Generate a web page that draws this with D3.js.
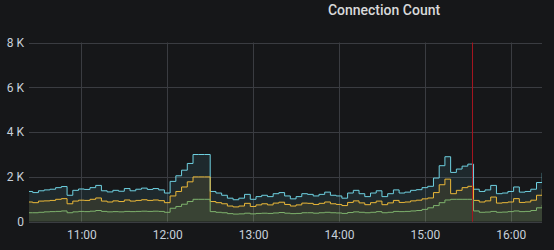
<!DOCTYPE html>
<html>
<head>
<meta charset="utf-8">
<script src="https://cdn.jsdelivr.net/npm/d3@7"></script>
<style>
    html, body { margin: 0; padding: 0; background: #161719; }
    svg { display: block; }
    text { font-family: Roboto, "Open Sans", sans-serif; }
</style>
</head>
<body>
<div id="chart"></div>
<script>
// Connection Count, samples every 4 minutes starting 10:22
var startTime = new Date(2020, 0, 1, 10, 22);
var stepMinutes = 4;

var cyanValues = [1.35, 1.30, 1.38, 1.42, 1.45, 1.52, 1.57, 1.18, 1.40, 1.46,
    1.44, 1.52, 1.62, 1.38, 1.33, 1.40, 1.36, 1.48, 1.38, 1.45,
    1.50, 1.44, 1.48, 1.42, 1.28, 1.80, 2.05, 2.30, 2.60, 3.00,
    3.00, 3.00, 1.35, 1.28, 1.18, 1.05, 0.98, 1.05, 1.22, 1.00,
    1.12, 1.18, 1.12, 1.25, 1.30, 1.15, 1.02, 1.12, 1.25, 1.22,
    1.15, 1.22, 1.32, 1.18, 1.15, 1.05, 1.28, 1.40, 1.25, 1.12,
    1.28, 1.38, 1.12, 1.25, 1.42, 1.28, 1.32, 1.40, 1.43, 1.52,
    1.58, 1.95, 2.50, 2.90, 2.20, 2.35, 2.48, 2.57, 1.45, 1.35,
    1.42, 1.62, 1.25, 1.28, 1.35, 1.55, 1.32, 1.35, 1.45, 1.75, 2.18];

var yellowValues = [0.88, 0.85, 0.92, 0.93, 0.95, 1.00, 1.03, 0.80, 0.92, 0.96,
    0.95, 1.00, 1.06, 0.92, 0.88, 0.93, 0.90, 0.97, 0.92, 0.95,
    0.98, 0.95, 0.97, 0.94, 0.85, 1.15, 1.35, 1.55, 1.78, 2.00,
    2.00, 2.00, 0.90, 0.85, 0.80, 0.70, 0.66, 0.70, 0.82, 0.68,
    0.75, 0.80, 0.75, 0.83, 0.87, 0.77, 0.70, 0.75, 0.83, 0.82,
    0.77, 0.82, 0.88, 0.80, 0.77, 0.72, 0.86, 0.93, 0.84, 0.76,
    0.85, 0.92, 0.76, 0.84, 0.95, 0.86, 0.88, 0.93, 0.96, 1.02,
    1.06, 1.30, 1.65, 1.90, 1.25, 1.40, 1.52, 1.58, 0.95, 0.88,
    0.93, 1.10, 0.83, 0.85, 0.88, 1.03, 0.86, 0.88, 0.96, 1.18, 1.46];

var greenValues = [0.40, 0.40, 0.42, 0.44, 0.45, 0.46, 0.48, 0.40, 0.44, 0.46,
    0.45, 0.47, 0.50, 0.46, 0.44, 0.45, 0.44, 0.46, 0.45, 0.46,
    0.47, 0.46, 0.47, 0.46, 0.42, 0.60, 0.68, 0.78, 0.90, 1.00,
    1.00, 1.00, 0.45, 0.42, 0.40, 0.36, 0.34, 0.35, 0.38, 0.35,
    0.37, 0.38, 0.37, 0.39, 0.41, 0.38, 0.36, 0.37, 0.40, 0.40,
    0.38, 0.40, 0.42, 0.40, 0.39, 0.37, 0.41, 0.44, 0.42, 0.40,
    0.42, 0.45, 0.40, 0.42, 0.46, 0.45, 0.46, 0.48, 0.50, 0.55,
    0.62, 0.72, 0.85, 0.97, 1.00, 1.00, 1.00, 1.00, 0.48, 0.42,
    0.43, 0.46, 0.42, 0.43, 0.45, 0.48, 0.45, 0.46, 0.50, 0.62, 0.75];

var yTickValues = [0, 2000, 4000, 6000, 8000];
var yTickLabels = ["0", "2 K", "4 K", "6 K", "8 K"];
var xTickHours = [11, 12, 13, 14, 15, 16];
var annotationTime = new Date(2020, 0, 1, 15, 33);

var series = [
    {name: "cyan", color: "#6ED0E0", values: cyanValues},
    {name: "yellow", color: "#EAB839", values: yellowValues},
    {name: "green", color: "#7EB26D", values: greenValues}
];

var width = 554, height = 250;
var plot = {left: 29, right: 542, top: 42.5, bottom: 221.7};

var svg = d3.select("#chart").append("svg")
    .attr("width", width)
    .attr("height", height);

svg.append("rect")
    .attr("width", width)
    .attr("height", height)
    .attr("fill", "#161719");

var x = d3.scaleTime()
    .domain([new Date(2020, 0, 1, 10, 23, 24), new Date(2020, 0, 1, 16, 21, 50)])
    .range([plot.left, plot.right]);

var y = d3.scaleLinear()
    .domain([0, 8000])
    .range([plot.bottom, plot.top]);

// grid
var grid = svg.append("g").attr("class", "grid");
grid.selectAll("line.h")
    .data(yTickValues)
    .enter().append("line")
    .attr("class", "h")
    .attr("x1", plot.left)
    .attr("x2", plot.right)
    .attr("y1", function(d){ return Math.round(y(d)) + 0.5; })
    .attr("y2", function(d){ return Math.round(y(d)) + 0.5; })
    .attr("stroke", "#3a3c41")
    .attr("stroke-width", 1);

var xTicks = xTickHours.map(function(h){ return new Date(2020, 0, 1, h, 0); });
grid.selectAll("line.v")
    .data(xTicks)
    .enter().append("line")
    .attr("class", "v")
    .attr("x1", function(d){ return Math.round(x(d)) + 0.5; })
    .attr("x2", function(d){ return Math.round(x(d)) + 0.5; })
    .attr("y1", plot.top)
    .attr("y2", plot.bottom)
    .attr("stroke", "#3a3c41")
    .attr("stroke-width", 1);

// series
svg.append("clipPath").attr("id", "clip")
    .append("rect")
    .attr("x", plot.left)
    .attr("y", plot.top)
    .attr("width", plot.right - plot.left)
    .attr("height", plot.bottom - plot.top);

var timeOf = function(i){
    return new Date(startTime.getTime() + i * stepMinutes * 60000);
};

var area = d3.area()
    .curve(d3.curveStepAfter)
    .x(function(d, i){ return x(timeOf(i)); })
    .y0(y(0))
    .y1(function(d){ return y(d * 1000); });

var line = d3.line()
    .curve(d3.curveStepAfter)
    .x(function(d, i){ return x(timeOf(i)); })
    .y(function(d){ return y(d * 1000); });

var g = svg.append("g").attr("clip-path", "url(#clip)");

g.selectAll("path.area")
    .data(series)
    .enter().append("path")
    .attr("class", "area")
    .attr("d", function(s){ return area(s.values); })
    .attr("fill", function(s){ return s.color; })
    .attr("fill-opacity", 0.1);

g.selectAll("path.line")
    .data(series)
    .enter().append("path")
    .attr("class", "line")
    .attr("d", function(s){ return line(s.values); })
    .attr("fill", "none")
    .attr("stroke", function(s){ return s.color; })
    .attr("stroke-width", 1);

// annotation marker
svg.append("line")
    .attr("x1", Math.round(x(annotationTime)) + 0.5)
    .attr("x2", Math.round(x(annotationTime)) + 0.5)
    .attr("y1", plot.top)
    .attr("y2", plot.bottom)
    .attr("stroke", "#a3151f")
    .attr("stroke-width", 1);

// axes labels
var yAxis = d3.axisLeft(y)
    .tickValues(yTickValues)
    .tickSize(0)
    .tickPadding(0)
    .tickFormat(function(d, i){ return yTickLabels[i]; });

var yg = svg.append("g")
    .attr("transform", "translate(24,0)")
    .call(yAxis);
yg.select(".domain").remove();
yg.selectAll("text")
    .attr("fill", "#c7d0d9")
    .style("font-size", "12px")
    .style("font-family", "Roboto, sans-serif");

var xAxis = d3.axisBottom(x)
    .tickValues(xTicks)
    .tickSize(0)
    .tickPadding(0)
    .tickFormat(d3.timeFormat("%H:%M"));

var xg = svg.append("g")
    .attr("transform", "translate(0,230)")
    .call(xAxis);
xg.select(".domain").remove();
xg.selectAll("text")
    .attr("fill", "#c7d0d9")
    .style("font-size", "12px")
    .style("font-family", "Roboto, sans-serif");

// title
svg.append("text")
    .attr("x", 384)
    .attr("y", 15)
    .attr("text-anchor", "middle")
    .attr("fill", "#d8d9da")
    .style("font-size", "14px")
    .style("font-weight", "500")
    .text("Connection Count");
</script>
</body>
</html>
